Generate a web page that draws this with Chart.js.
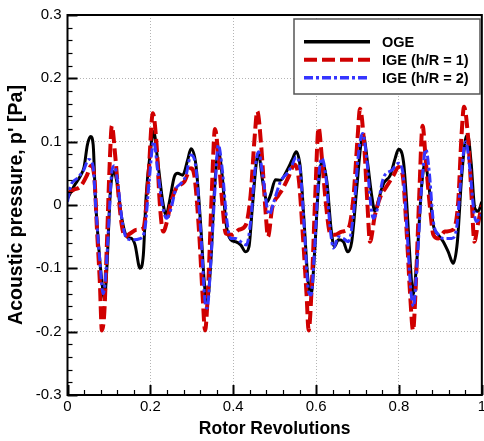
<!DOCTYPE html>
<html>
<head>
<meta charset="utf-8">
<script src="https://cdn.jsdelivr.net/npm/chart.js@4.4.0/dist/chart.umd.min.js"></script>
<style>
  html, body { margin: 0; padding: 0; background: #fff; overflow: hidden; }
  #wrap { width: 489px; height: 441px; }
</style>
</head>
<body>
<div id="wrap"><canvas id="grafico"></canvas></div>
<script>
// pressione acustica nel tempo (giri rotore) - tre casi
const ogeX = [0, 0.016, 0.032, 0.04, 0.048, 0.056, 0.062, 0.067, 0.075, 0.083, 0.089, 0.095, 0.103, 0.111, 0.119, 0.131, 0.143, 0.155, 0.163, 0.175, 0.183, 0.19, 0.2, 0.208, 0.218, 0.23, 0.238,
  0.246, 0.258, 0.266, 0.278, 0.29, 0.298, 0.31, 0.322, 0.33, 0.337, 0.346, 0.354, 0.364, 0.374, 0.382, 0.394, 0.406, 0.418, 0.43, 0.438, 0.446, 0.456, 0.461, 0.47, 0.482, 0.49, 0.502,
  0.514, 0.53, 0.542, 0.552, 0.562, 0.572, 0.58, 0.588, 0.596, 0.606, 0.614, 0.626, 0.636, 0.644, 0.654, 0.666, 0.676, 0.686, 0.698, 0.708, 0.714, 0.724, 0.734, 0.742, 0.752,
  0.763, 0.779, 0.791, 0.799, 0.811, 0.819, 0.827, 0.834, 0.843, 0.855, 0.863, 0.871, 0.883, 0.895, 0.907, 0.919, 0.931, 0.941, 0.951, 0.961, 0.966, 0.974, 0.983, 0.991, 1];
const ogeY = [0.01, 0.03, 0.047, 0.06, 0.095, 0.108, 0.095, 0.016, -0.063, -0.121, -0.148, -0.1, 0.016, 0.053, 0.037, -0.021, -0.05, -0.053, -0.063, -0.1, -0.079, 0.016, 0.084, 0.116, 0.068, 0.005, -0.016,
  0.005, 0.045, 0.05, 0.047, 0.071, 0.089, 0.063, -0.037, -0.121, -0.155, -0.089, 0.016, 0.084, 0.042, -0.026, -0.055, -0.058, -0.063, -0.074, -0.066, -0.005, 0.068, 0.082, 0.042, 0.005, 0.016, 0.04,
  0.039, 0.055, 0.071, 0.084, 0.058, -0.037, -0.116, -0.142, -0.079, 0.032, 0.068, 0.037, -0.037, -0.066, -0.055, -0.058, -0.074, -0.058, 0.026, 0.095, 0.11, 0.068, 0.016, -0.01, 0.011,
  0.034, 0.047, 0.074, 0.088, 0.068, 0.0, -0.089, -0.142, -0.089, 0.032, 0.066, 0.037, -0.032, -0.047, -0.058, -0.074, -0.092, -0.058, 0.042, 0.105, 0.11, 0.068, -0.005, -0.01, 0.005];

const ige1X = [0, 0.015, 0.031, 0.047, 0.057, 0.065, 0.071, 0.078, 0.083, 0.089, 0.095, 0.102, 0.107, 0.115, 0.123, 0.131, 0.139, 0.151, 0.167, 0.183, 0.195, 0.206, 0.215, 0.223, 0.231, 0.24,
  0.25, 0.262, 0.282, 0.298, 0.306, 0.318, 0.326, 0.332, 0.34, 0.348, 0.356, 0.364, 0.374, 0.382, 0.398, 0.414, 0.43, 0.442, 0.452, 0.458, 0.468, 0.478, 0.484, 0.494,
  0.51, 0.518, 0.534, 0.548, 0.558, 0.568, 0.577, 0.582, 0.59, 0.598, 0.606, 0.614, 0.624, 0.634, 0.646, 0.662, 0.678, 0.69, 0.7, 0.706, 0.716, 0.724, 0.73, 0.742,
  0.757, 0.767, 0.787, 0.799, 0.809, 0.819, 0.827, 0.834, 0.841, 0.849, 0.857, 0.865, 0.875, 0.883, 0.895, 0.911, 0.931, 0.943, 0.951, 0.957, 0.967, 0.975, 0.982, 0.99, 1];
const ige1Y = [0.018, 0.024, 0.029, 0.047, 0.062, 0.042, -0.037, -0.121, -0.198, -0.168, -0.063, 0.068, 0.125, 0.079, 0.016, -0.032, -0.05, -0.045, -0.039, -0.037, 0.042, 0.145, 0.095, 0.0, -0.042, -0.026,
  0.005, 0.026, 0.037, 0.058, 0.047, -0.047, -0.142, -0.198, -0.121, 0.016, 0.12, 0.079, 0.0, -0.045, -0.047, -0.039, -0.032, 0.016, 0.11, 0.148, 0.089, -0.01, -0.05, -0.005,
  0.016, 0.024, 0.045, 0.064, 0.042, -0.047, -0.142, -0.198, -0.121, 0.016, 0.122, 0.074, 0.0, -0.045, -0.047, -0.042, -0.037, 0.011, 0.105, 0.152, 0.095, 0.0, -0.058, -0.016,
  0.016, 0.026, 0.047, 0.06, 0.047, -0.047, -0.142, -0.198, -0.121, 0.016, 0.125, 0.068, -0.005, -0.047, -0.053, -0.042, -0.039, 0.005, 0.11, 0.155, 0.105, 0.016, -0.058, -0.032, 0.0];

const ige2X = [0, 0.007, 0.023, 0.039, 0.051, 0.061, 0.069, 0.077, 0.086, 0.091, 0.099, 0.107, 0.113, 0.121, 0.131, 0.143, 0.159, 0.175, 0.187, 0.197, 0.208, 0.218, 0.229, 0.239,
  0.248, 0.262, 0.274, 0.286, 0.298, 0.31, 0.322, 0.332, 0.337, 0.346, 0.356, 0.364, 0.374, 0.384, 0.394, 0.406, 0.418, 0.432, 0.442, 0.452, 0.461, 0.47, 0.482, 0.487,
  0.498, 0.514, 0.53, 0.542, 0.552, 0.562, 0.572, 0.582, 0.588, 0.596, 0.606, 0.614, 0.624, 0.634, 0.642, 0.654, 0.666, 0.678, 0.69, 0.702, 0.712, 0.722, 0.732, 0.738, 0.746,
  0.762, 0.783, 0.799, 0.809, 0.819, 0.829, 0.835, 0.844, 0.855, 0.865, 0.873, 0.883, 0.895, 0.911, 0.927, 0.939, 0.951, 0.961, 0.971, 0.981, 0.987, 1];
const ige2Y = [0.005, 0.029, 0.042, 0.055, 0.072, 0.063, -0.011, -0.079, -0.14, -0.121, -0.037, 0.053, 0.062, 0.037, -0.021, -0.053, -0.055, -0.053, -0.037, 0.037, 0.1, 0.053, 0.0, -0.021,
  -0.01, 0.026, 0.034, 0.047, 0.079, 0.058, -0.047, -0.153, -0.163, -0.089, 0.026, 0.095, 0.053, -0.021, -0.053, -0.053, -0.058, -0.063, -0.026, 0.053, 0.084, 0.053, -0.005, -0.015,
  0.005, 0.037, 0.05, 0.063, 0.076, 0.053, -0.042, -0.137, -0.142, -0.074, 0.042, 0.074, 0.042, -0.037, -0.068, -0.05, -0.053, -0.058, -0.016, 0.079, 0.113, 0.074, 0.0, -0.021, -0.011,
  0.042, 0.055, 0.066, 0.053, -0.037, -0.137, -0.16, -0.089, 0.032, 0.088, 0.053, -0.026, -0.047, -0.053, -0.053, -0.037, 0.053, 0.1, 0.058, -0.011, -0.026, -0.015];

const xTicks = [0, 0.2, 0.4, 0.6, 0.8, 1];
const yTicks = [-0.3, -0.2, -0.1, 0, 0.1, 0.2, 0.3];

const etichette = ['OGE', 'IGE (h/R = 1)', 'IGE (h/R = 2)'];

function punti(xs, ys) {
    return xs.map((x, i) => ({ x: x, y: ys[i] }));
}

// cornice, tacche interne e legenda
const decorazioni = {
    id: 'decorazioni',
    afterDatasetsDraw(chart) {
        const ctx = chart.ctx;
        const a = chart.chartArea;
        const sx = chart.scales.x;
        const sy = chart.scales.y;
        ctx.save();
        ctx.strokeStyle = '#000';

        // tacche asse x
        for (let v = 0; v <= 1.0001; v += 0.04) {
            const major = Math.abs(v / 0.2 - Math.round(v / 0.2)) < 1e-6;
            const px = Math.round(sx.getPixelForValue(v)) + 0.5;
            ctx.lineWidth = major ? 2 : 1.2;
            ctx.beginPath();
            ctx.moveTo(px, a.bottom);
            ctx.lineTo(px, a.bottom - (major ? 10 : 5));
            ctx.stroke();
        }
        // tacche asse y
        for (let v = -0.3; v <= 0.3001; v += 0.02) {
            const major = Math.abs(v / 0.1 - Math.round(v / 0.1)) < 1e-6;
            const py = Math.round(sy.getPixelForValue(v)) + 0.5;
            ctx.lineWidth = major ? 2 : 1.2;
            ctx.beginPath();
            ctx.moveTo(a.left, py);
            ctx.lineTo(a.left + (major ? 10 : 5), py);
            ctx.stroke();
        }

        // cornice
        ctx.lineWidth = 2;
        ctx.strokeRect(a.left, a.top, a.right - a.left, a.bottom - a.top);

        // legenda
        const bx = 294, by = 19, bw = 186, bh = 75;
        ctx.fillStyle = '#fff';
        ctx.fillRect(bx, by, bw, bh);
        ctx.strokeStyle = '#555';
        ctx.lineWidth = 1.5;
        ctx.strokeRect(bx, by, bw, bh);

        ctx.font = 'bold 14.5px "Liberation Sans", Arial, sans-serif';
        ctx.textBaseline = 'middle';
        ctx.textAlign = 'left';
        const righe = [41.7, 59.7, 77.7];
        chart.data.datasets.forEach((ds, i) => {
            const yy = righe[i];
            ctx.strokeStyle = ds.borderColor;
            ctx.lineWidth = i === 1 ? 4 : 3.5;
            ctx.setLineDash(ds.borderDash || []);
            ctx.beginPath();
            ctx.moveTo(304, yy);
            ctx.lineTo(370, yy);
            ctx.stroke();
            ctx.setLineDash([]);
            ctx.fillStyle = '#000';
            ctx.fillText(ds.label, 382, yy + 1);
        });
        ctx.restore();
    }
};

const ctx = document.getElementById('grafico').getContext('2d');

new Chart(ctx, {
    type: 'line',
    data: {
        datasets: [
            {
                label: etichette[0],
                data: punti(ogeX, ogeY),
                borderColor: '#000000',
                borderWidth: 3,
                order: 3
            },
            {
                label: etichette[1],
                data: punti(ige1X, ige1Y),
                borderColor: '#d00000',
                borderWidth: 4,
                borderDash: [13, 5],
                order: 2
            },
            {
                label: etichette[2],
                data: punti(ige2X, ige2Y),
                borderColor: '#3535ff',
                borderWidth: 3,
                borderDash: [9, 3, 3, 3],
                order: 1
            }
        ]
    },
    options: {
        responsive: true,
        maintainAspectRatio: false,
        animation: false,
        layout: { padding: { top: 15, left: 0, right: 0, bottom: 0 } },
        elements: {
            point: { radius: 0 },
            line: { tension: 0, cubicInterpolationMode: 'monotone', borderCapStyle: 'butt' }
        },
        plugins: {
            legend: { display: false },
            tooltip: { enabled: false }
        },
        scales: {
            x: {
                type: 'linear',
                min: 0,
                max: 1,
                afterBuildTicks: s => { s.ticks = xTicks.map(v => ({ value: v })); },
                afterFit: s => { s.height = 46; },
                grid: { color: '#b4b4b4', lineWidth: 1, drawTicks: false },
                border: { display: false, dash: [1, 2] },
                ticks: {
                    padding: 3,
                    color: '#000',
                    font: { family: '"Liberation Sans", Arial, sans-serif', size: 15 },
                    callback: v => String(Number(v.toFixed(1)))
                },
                title: {
                    display: true,
                    text: 'Rotor Revolutions',
                    color: '#000',
                    padding: { top: 0, bottom: 1 },
                    font: { family: '"Liberation Sans", Arial, sans-serif', size: 17.5, weight: 'bold' }
                }
            },
            y: {
                type: 'linear',
                min: -0.3,
                max: 0.3,
                afterBuildTicks: s => { s.ticks = yTicks.map(v => ({ value: v })); },
                afterFit: s => { s.width = 67.5; },
                grid: { color: '#b4b4b4', lineWidth: 1, drawTicks: false },
                border: { display: false, dash: [1, 2] },
                ticks: {
                    padding: 6,
                    color: '#000',
                    font: { family: '"Liberation Sans", Arial, sans-serif', size: 15 },
                    callback: v => String(Number(v.toFixed(1)))
                },
                title: {
                    display: true,
                    text: "Acoustic pressure, p' [Pa]",
                    color: '#000',
                    padding: { top: 5, bottom: 0 },
                    font: { family: '"Liberation Sans", Arial, sans-serif', size: 19.5, weight: 'bold' }
                }
            }
        }
    },
    plugins: [decorazioni]
});
</script>
</body>
</html>
